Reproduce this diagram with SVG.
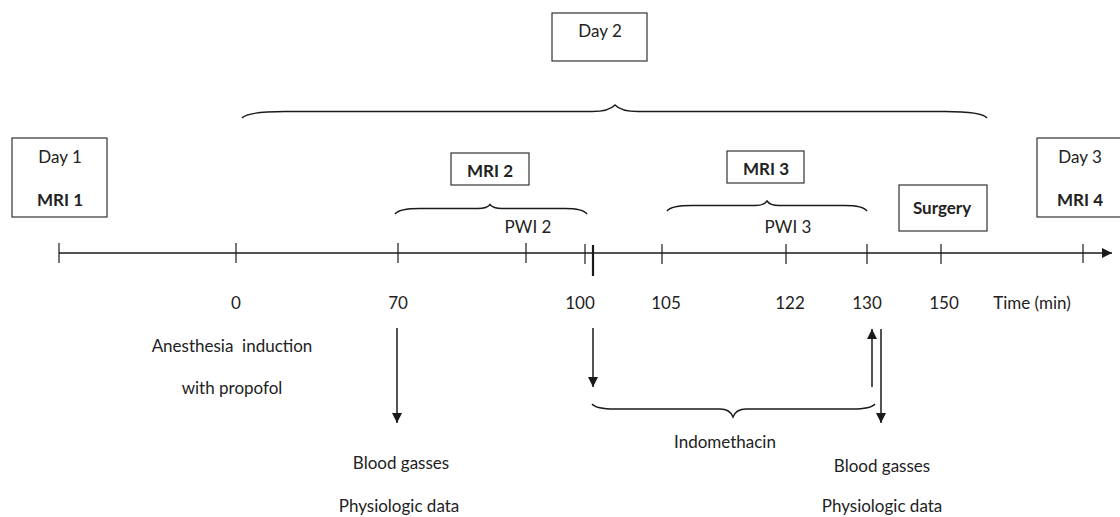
<svg xmlns="http://www.w3.org/2000/svg" width="1120" height="517" viewBox="0 0 1120 517">
<defs>
<style>
text{font-family:Lato,"Open Sans","Liberation Sans",sans-serif;font-size:17px;fill:#222;text-anchor:middle;white-space:pre}
.b{font-weight:bold}
.box{fill:#fff;stroke:#333;stroke-width:1.2}
.ln{stroke:#1a1a1a;stroke-width:1.5;fill:none}
.tk{stroke:#1a1a1a;stroke-width:1.2}
.br{stroke:#1a1a1a;stroke-width:1.4;fill:none}
</style>
<marker id="ah" viewBox="0 0 10 10" refX="10" refY="5" markerWidth="10" markerHeight="10" markerUnits="userSpaceOnUse" orient="auto">
<path d="M0,0 L10,5 L0,10 z" fill="#1a1a1a"/>
</marker>
</defs>
<rect width="1120" height="517" fill="#fff"/>

<g id="day1"><rect class="box" x="12" y="138" width="95" height="79"/><text x="60" y="163">Day 1</text><text class="b" x="60" y="206">MRI 1</text></g>
<g id="day2"><rect class="box" x="552" y="13" width="95" height="48"/><text x="600" y="37">Day 2</text></g>
<g id="day3"><rect class="box" x="1037" y="138" width="90" height="79"/><text x="1080" y="163">Day 3</text><text class="b" x="1080" y="206">MRI 4</text></g>
<g id="mri2"><rect class="box" x="451" y="153" width="78" height="32"/><text class="b" x="490" y="177">MRI 2</text></g>
<g id="mri3"><rect class="box" x="727" y="151" width="77" height="32"/><text class="b" x="766" y="175">MRI 3</text></g>
<g id="surgery"><rect class="box" x="899" y="185" width="88" height="46"/><text class="b" x="942" y="214">Surgery</text></g>

<g id="timeline">
<line class="ln" x1="59" y1="253" x2="1112" y2="253" marker-end="url(#ah)"/>
<g class="tk">
<line x1="59" y1="243" x2="59" y2="263"/>
<line x1="236" y1="243" x2="236" y2="263"/>
<line x1="398" y1="243" x2="398" y2="263"/>
<line x1="526" y1="243" x2="526" y2="263"/>
<line x1="585" y1="244" x2="585" y2="264"/>
<line x1="662" y1="244" x2="662" y2="264"/>
<line x1="786" y1="244" x2="786" y2="264"/>
<line x1="867" y1="244" x2="867" y2="264"/>
<line x1="941" y1="244" x2="941" y2="264"/>
<line x1="1083" y1="244" x2="1083" y2="263"/>
</g>
<line x1="593" y1="245" x2="593" y2="276" stroke="#1a1a1a" stroke-width="2.2"/>
</g>

<g id="axis-labels">
<text x="236" y="309">0</text>
<text x="398" y="309">70</text>
<text x="580" y="309">100</text>
<text x="666" y="309">105</text>
<text x="790" y="309">122</text>
<text x="867" y="309">130</text>
<text x="944" y="309">150</text>
<text x="1032" y="309">Time (min)</text>
<text x="528" y="233">PWI 2</text>
<text x="788" y="233">PWI 3</text>
</g>

<g id="braces">
<path class="br" d="M242,118 Q248,111.5 285,111.5 L592,111.5 Q609,111.5 615,105 Q621,111.5 638,111.5 L945,111.5 Q982,111.5 987,118"/>
<path class="br" d="M395,214 Q399,208.5 420,208.5 L478,208.5 Q487,208.5 490,204.5 Q493,208.5 502,208.5 L565,208.5 Q583,208.5 587,214"/>
<path class="br" d="M667,211 Q671,205.5 692,205.5 L755,205.5 Q764,205.5 767,201 Q770,205.5 779,205.5 L845,205.5 Q863,205.5 867,211"/>
<path class="br" d="M592,404 Q596,409 615,409 L720,409 Q730,409 733,417 Q736,409 746,409 L852,409 Q871,409 875,404"/>
</g>

<g id="connectors">
<line class="ln" x1="397" y1="328" x2="397" y2="423" marker-end="url(#ah)"/>
<line class="ln" x1="593" y1="328" x2="593" y2="387" marker-end="url(#ah)"/>
<line class="ln" x1="872" y1="387" x2="872" y2="329" marker-end="url(#ah)"/>
<line class="ln" x1="881" y1="329" x2="881" y2="423" marker-end="url(#ah)"/>
</g>

<g id="notes">
<text x="232" y="352">Anesthesia  induction</text>
<text x="232" y="394">with propofol</text>
<text x="401" y="469">Blood gasses</text>
<text x="399" y="512">Physiologic data</text>
<text x="725" y="448">Indomethacin</text>
<text x="882" y="472">Blood gasses</text>
<text x="882" y="512">Physiologic data</text>
</g>
</svg>
